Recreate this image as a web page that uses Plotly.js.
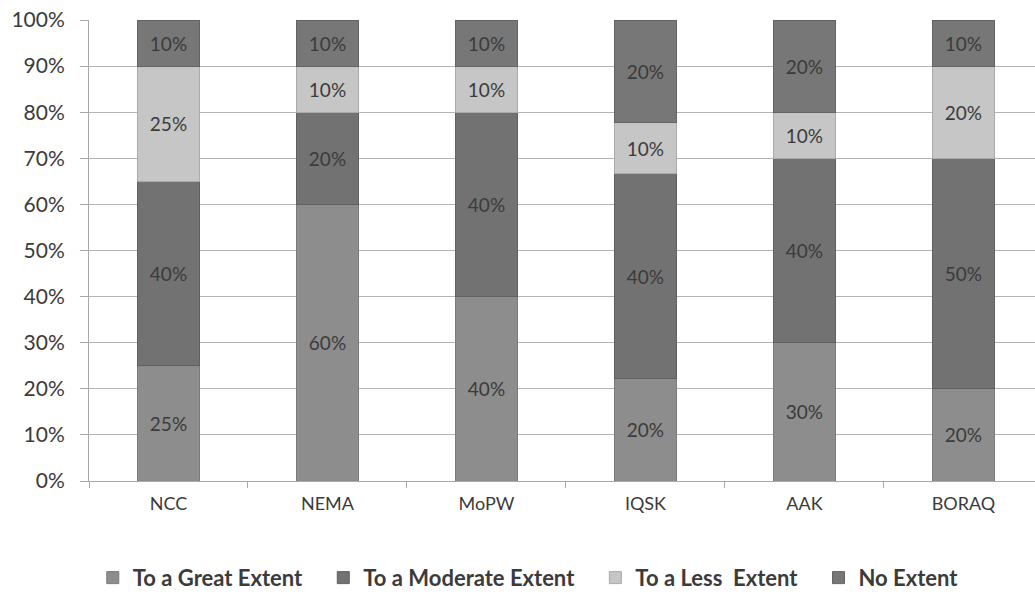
<!DOCTYPE html>
<html>
<head>
<meta charset="utf-8">
<script src="https://cdn.plot.ly/plotly-3.0.1.min.js"></script>
<style>
  html, body { margin: 0; padding: 0; background: #fff; }
  #chart { width: 1035px; height: 599px; }
</style>
</head>
<body>
<div id="chart"></div>
<script>
// Organisations surveyed
const categories = ['NCC', 'NEMA', 'MoPW', 'IQSK', 'AAK', 'BORAQ'];

// Share of responses per extent (percent)
const greatExtent    = [25, 60, 40, 20, 30, 20];
const moderateExtent = [40, 20, 40, 40, 40, 50];
const lessExtent     = [25, 10, 10, 10, 10, 20];
const noExtent       = [10, 10, 10, 20, 20, 10];

const seriesNames = ['To a Great Extent', 'To a Moderate Extent', 'To a Less  Extent', 'No Extent'];
const seriesValues = [greatExtent, moderateExtent, lessExtent, noExtent];
const seriesColors = ['#8d8d8d', '#727272', '#c6c6c6', '#777777'];
const edgeColors   = ['#7a7a7a', '#606060', '#aaaaaa', '#636363'];

const yTickVals = [0, 10, 20, 30, 40, 50, 60, 70, 80, 90, 100];

const FONT = 'Lato, "Open Sans", sans-serif';
const TEXT = '#3b3b3b';
// a little extra room after each legend entry
const PAD = '\u00a0\u00a0\u00a0';

const traces = seriesValues.map((vals, i) => ({
  type: 'bar',
  name: seriesNames[i] + PAD,
  x: categories,
  y: vals,
  text: vals.map(v => v + '%'),
  textposition: 'inside',
  insidetextanchor: 'middle',
  textangle: 0,
  textfont: { family: FONT, size: 19, color: TEXT },
  hoverinfo: 'name+text',
  marker: { color: seriesColors[i], line: { color: edgeColors[i], width: 1 } }
}));

const layout = {
  width: 1035,
  height: 599,
  barmode: 'stack',
  barnorm: 'percent',
  bargap: 0.61,
  paper_bgcolor: '#ffffff',
  plot_bgcolor: '#ffffff',
  margin: { l: 89, r: 0, t: 20, b: 116 },
  font: { family: FONT, color: TEXT },
  xaxis: {
    type: 'category',
    range: [-0.5, 5.45],
    tickson: 'boundaries',
    ticks: 'outside',
    ticklen: 6,
    tickcolor: '#a8a8a8',
    ticklabelstandoff: 6,
    showline: true,
    linecolor: '#a8a8a8',
    linewidth: 1,
    showgrid: false,
    tickfont: { family: FONT, size: 18, color: TEXT }
  },
  yaxis: {
    range: [0, 100],
    tickvals: yTickVals,
    ticktext: yTickVals.map(v => v + '%'),
    ticks: 'outside',
    ticklen: 8,
    tickcolor: '#a8a8a8',
    ticklabelstandoff: 11,
    showline: true,
    linecolor: '#a8a8a8',
    linewidth: 1,
    gridcolor: '#b3b3b3',
    gridwidth: 1,
    zeroline: false,
    tickfont: { family: FONT, size: 21, color: TEXT }
  },
  showlegend: true,
  legend: {
    orientation: 'h',
    x: 0.004,
    xanchor: 'left',
    y: -0.21,
    yanchor: 'middle',
    traceorder: 'normal',
    font: { family: FONT, size: 22, color: TEXT, weight: 'bold' },
    itemwidth: 30,
    bgcolor: 'rgba(0,0,0,0)'
  }
};

Plotly.newPlot('chart', traces, layout, { displayModeBar: false, staticPlot: true });
</script>
</body>
</html>
